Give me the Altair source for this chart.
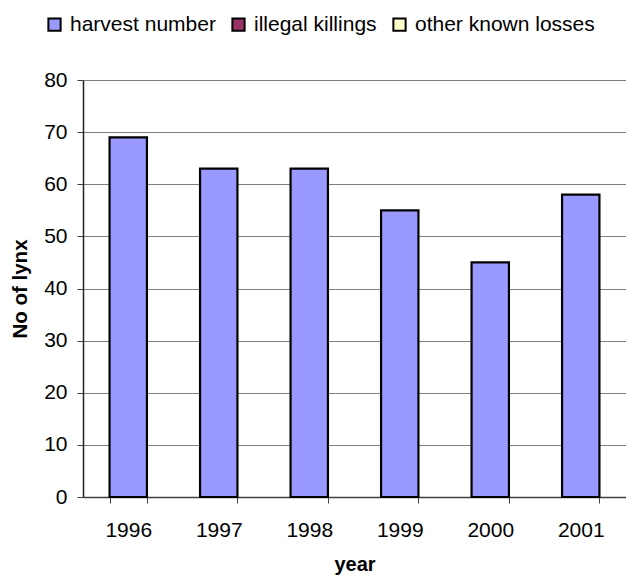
import altair as alt
import pandas as pd

years = ["1996", "1997", "1998", "1999", "2000", "2001"]
harvest = [69, 63, 63, 55, 45, 58]
illegal = [0, 0, 0, 0, 0, 0]
other = [0, 0, 0, 0, 0, 0]
series = ["harvest number", "illegal killings", "other known losses"]
colors = ["#9999FF", "#993366", "#FFFFCC"]
y_ticks = [0, 10, 20, 30, 40, 50, 60, 70, 80]

rows = []
for i, (name, vals) in enumerate(zip(series, [harvest, illegal, other])):
    for yr, v in zip(years, vals):
        rows.append({"year": yr, "series": name, "value": v, "order": i})
df = pd.DataFrame(rows)

FONT = "Liberation Sans"

chart = (
    alt.Chart(df)
    .transform_filter("datum.value > 0")
    .mark_bar(stroke="black", strokeWidth=2.2)
    .encode(
        x=alt.X(
            "year:N",
            sort=years,
            title="year",
            scale=alt.Scale(paddingInner=0.587, paddingOuter=0.2935),
            axis=alt.Axis(
                labelAngle=0,
                tickBand="extent",
                tickSize=6,
                tickColor="#404040",
                domainColor="#404040",
                domainWidth=1.5,
                labelFontSize=21,
                labelPadding=16,
                labelColor="black",
                titleFontSize=20,
                titleFontWeight="bold",
                titleColor="black",
                titleBaseline="alphabetic",
                titleY=73,
                grid=False,
            ),
        ),
        y=alt.Y(
            "value:Q",
            stack="zero",
            title="No of lynx",
            scale=alt.Scale(domain=[0, 80], nice=False),
            axis=alt.Axis(
                values=y_ticks,
                tickSize=6,
                tickColor="#404040",
                domainColor="#202020",
                domainWidth=1.5,
                gridColor="#808080",
                gridWidth=1,
                labelFontSize=21,
                labelPadding=10,
                labelColor="black",
                titleFontSize=20.5,
                titleFontWeight="bold",
                titleColor="black",
                titleBaseline="alphabetic",
                titleX=-57,
                titleY=208.5,
            ),
        ),
        color=alt.Color(
            "series:N",
            scale=alt.Scale(domain=series, range=colors),
            legend=alt.Legend(
                title=None,
                orient="none",
                legendX=-39,
                legendY=-66,
                direction="horizontal",
                symbolType="square",
                symbolSize=150,
                symbolStrokeColor="black",
                symbolStrokeWidth=2,
                symbolOpacity=1,
                labelFontSize=21,
                labelFont=FONT,
                labelColor="black",
                labelOffset=5,
                labelLimit=400,
                columnPadding=12,
                padding=0,
            ),
        ),
        order=alt.Order("order:Q"),
    )
    .properties(
        width=543,
        height=417,
        autosize=alt.AutoSizeParams(type="none"),
        padding={"left": 75, "top": 72, "right": 0, "bottom": 79},
    )
    .configure(font=FONT)
    .configure_view(stroke=None)
)

chart.save("out.html", embed_options={"renderer": "svg", "actions": False})
